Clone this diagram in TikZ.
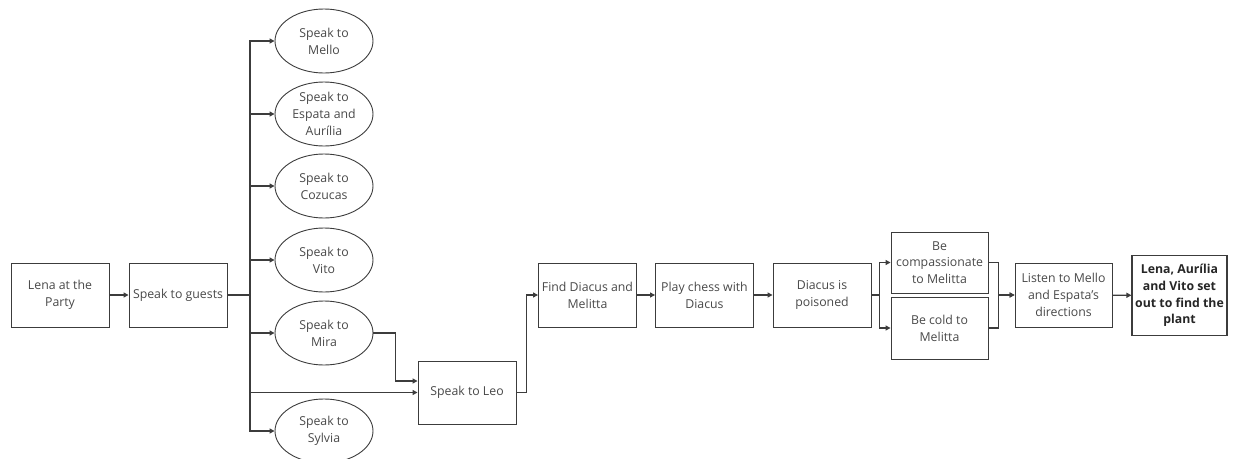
\documentclass[tikz,border=0pt]{standalone}
\usepackage{fontspec}
\setmainfont{Open Sans}
\usetikzlibrary{arrows.meta,shapes.geometric,calc}
\definecolor{ink}{HTML}{3C3C3C}
\definecolor{txt}{HTML}{484848}
\tikzset{
  every node/.style={font=\fontsize{12.3}{16.8}\selectfont, text=txt},
  stepbox/.style={draw=ink, line width=0.9pt, rectangle, align=center,
    minimum width=98pt, minimum height=64pt, inner sep=1pt},
  talk/.style={draw=ink, line width=0.9pt, ellipse, align=center,
    minimum width=98pt, minimum height=64pt, inner sep=0pt},
  link/.style={draw=ink, line width=1.2pt},
  arr/.style={link, -{Triangle[length=5pt,width=5pt]}},
}
\begin{document}
\begin{tikzpicture}[x=1pt,y=-1pt]
\useasboundingbox (0,0) rectangle (1233,458);
\clip (0,0) rectangle (1233,458);

% main steps
\node[stepbox] (lena)   at (60,295)  {Lena at the\\Party};
\node[stepbox] (guests) at (178,295) {Speak to guests};

% guests to talk to
\node[talk] (mello)  at (324,41)  {Speak to\\Mello};
\node[talk] (espata) at (324,114) {Speak to\\Espata and\\Aurília};
\node[talk] (cozu)   at (324,186) {Speak to\\Cozucas};
\node[talk] (vito)   at (324,260) {Speak to\\Vito};
\node[talk] (mira)   at (324,333) {Speak to\\Mira};
\node[talk] (sylvia) at (324,431) {Speak to\\Sylvia};

\node[stepbox, minimum height=63pt] (leo) at (467,392.5) {Speak to Leo};
\node[stepbox] (find)   at (587.5,295) {Find Diacus and\\Melitta};
\node[stepbox] (chess)  at (704.5,295) {Play chess with\\Diacus};
\node[stepbox] (pois)   at (822,295)   {Diacus is\\poisoned};
\node[stepbox, minimum width=97pt, minimum height=61pt] (comp) at (939.5,262.5) {Be\\compassionate\\to Melitta};
\node[stepbox, minimum width=97pt, minimum height=62pt] (cold) at (939.5,328) {Be cold to\\Melitta};
\node[stepbox, minimum width=97pt] (listen) at (1063.5,295) {Listen to Mello\\and Espata's\\directions};
\node[stepbox, minimum width=95pt, minimum height=80pt, line width=1.1pt,
      font=\fontsize{12.3}{16.8}\selectfont\bfseries, text=black!85] (goal) at (1179.5,295.5)
      {Lena, Aurília\\and Vito set\\out to find the\\plant};

% connectors
\coordinate (hub) at (250,295);
\draw[arr] (lena) -- (guests);
\foreach \t in {mello,espata,cozu,vito,mira,sylvia,leo}
  \draw[arr] (guests.east) -- (hub) |- (\t.west);
\draw[arr] (mira.east) -- ++(22,0) |- ([yshift=11.5pt]leo.west);
\draw[arr] (leo.east) -- ++(10,0) |- (find.west);
\draw[arr] (find) -- (chess);
\draw[arr] (chess) -- (pois);
\draw[arr] (pois.east) -- ++(8,0) |- (comp.west);
\draw[arr] (pois.east) -- ++(8,0) |- (cold.west);
\draw[arr] (comp.east) -- ++(10,0) |- (listen.west);
\draw[arr] (cold.east) -- ++(10,0) |- (listen.west);
\draw[arr] (listen) -- (goal);
\end{tikzpicture}
\end{document}
